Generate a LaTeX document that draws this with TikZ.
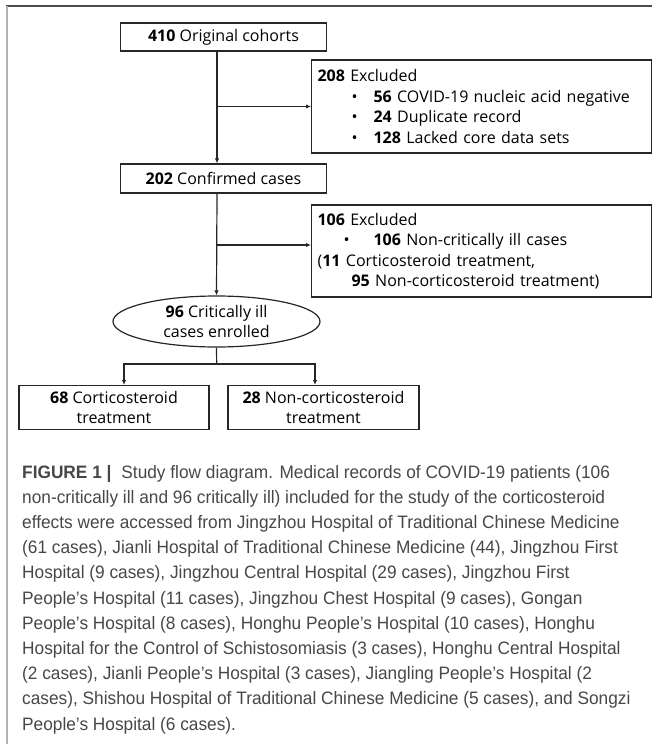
\documentclass[tikz,border=0pt]{standalone}
\usepackage{fontspec}
\setmainfont{Open Sans}
\newfontfamily\capfont[FakeStretch=0.96]{Liberation Sans}
\usetikzlibrary{shapes.geometric,arrows.meta}

\tikzset{
  flowbox/.style={draw=black!85, line width=1.2pt, rectangle, inner sep=0pt,
    font=\fontsize{16}{20.5}\selectfont, align=center},
  exclbox/.style={flowbox, align=left, text width=328pt, inner xsep=6pt, anchor=west},
  arr/.style={draw=black!85, line width=1.2pt, -{Latex[length=5pt,width=4.5pt]}},
  link/.style={draw=black!85, line width=1.2pt},
}
\newcommand{\bul}[2]{\hspace*{#1}\makebox[#2][l]{\textbullet}}

\begin{document}
\begin{tikzpicture}[x=1pt, y=-1pt]
    \useasboundingbox (0,0) rectangle (652,744);
    \draw[black!70, line width=1.5pt] (6,6) -- (652,6);% top rule
    \draw[gray!60, line width=2pt] (7,6) -- (7,744);% left rule

    \coordinate (spine) at (217,0);% x of the main vertical line
    \node[flowbox, minimum width=206pt, minimum height=28pt] (cohorts) at (223.5,37)
        {\textbf{410} Original cohorts};
    \node[exclbox, minimum height=93pt] (excl1) at (311,106.5)
        {\textbf{208} Excluded\\
         \bul{34pt}{22pt}\textbf{56} COVID-19 nucleic acid negative\\
         \bul{34pt}{22pt}\textbf{24} Duplicate record\\
         \bul{34pt}{22pt}\textbf{128} Lacked core data sets};
    \node[flowbox, minimum width=206pt, minimum height=29pt] (confirmed) at (223.5,178.5)
        {\textbf{202} Confirmed cases};
    \node[exclbox, minimum height=92pt] (excl2) at (311,251)
        {\textbf{106} Excluded\\
         \bul{26pt}{30pt}\textbf{106} Non-critically ill cases\\
         (\textbf{11} Corticosteroid treatment,\\
         \hspace*{34pt}\textbf{95} Non-corticosteroid treatment)};
    \node[flowbox, ellipse, minimum width=207pt, minimum height=51pt] (enrolled) at (216.5,321.5)
        {\textbf{96} Critically ill\\cases enrolled};
    \node[flowbox, minimum width=190pt, minimum height=44pt] (corti) at (114,407.5)
        {\textbf{68} Corticosteroid\\treatment};
    \node[flowbox, minimum width=191pt, minimum height=44pt] (noncorti) at (323.5,407.5)
        {\textbf{28} Non-corticosteroid\\treatment};
    \coordinate (split) at (216.7,364);

    % connectors
    \draw[arr] (cohorts.south -| spine) -- (confirmed.north -| spine);
    \draw[arr] (excl1.west -| spine) -- (excl1.west);
    \draw[arr] (confirmed.south -| spine) -- (enrolled.north);
    \draw[arr] ([yshift=6pt]excl2.west -| spine) -- ([yshift=6pt]excl2.west);
    \draw[link] (enrolled.south) -- (split);
    \draw[arr] (split) -| ([xshift=10pt]corti.north);
    \draw[arr] (split) -| ([xshift=-8.5pt]noncorti.north);

    % caption: base anchor of a multi-line node sits on its last line
    \node[anchor=base west, align=left, inner sep=0pt, text=black!72,
          font=\capfont\fontsize{18}{25.2}\selectfont] (caption) at (22,730)
        {\textbf{FIGURE 1 |}\hspace{0.55em}Study flow diagram. Medical records of COVID-19 patients (106\\
         non-critically ill and 96 critically ill) included for the study of the corticosteroid\\
         effects were accessed from Jingzhou Hospital of Traditional Chinese Medicine\\
         (61 cases), Jianli Hospital of Traditional Chinese Medicine (44), Jingzhou First\\
         Hospital (9 cases), Jingzhou Central Hospital (29 cases), Jingzhou First\\
         People’s Hospital (11 cases), Jingzhou Chest Hospital (9 cases), Gongan\\
         People’s Hospital (8 cases), Honghu People’s Hospital (10 cases), Honghu\\
         Hospital for the Control of Schistosomiasis (3 cases), Honghu Central Hospital\\
         (2 cases), Jianli People’s Hospital (3 cases), Jiangling People’s Hospital (2\\
         cases), Shishou Hospital of Traditional Chinese Medicine (5 cases), and Songzi\\
         People’s Hospital (6 cases).};
\end{tikzpicture}
\end{document}
